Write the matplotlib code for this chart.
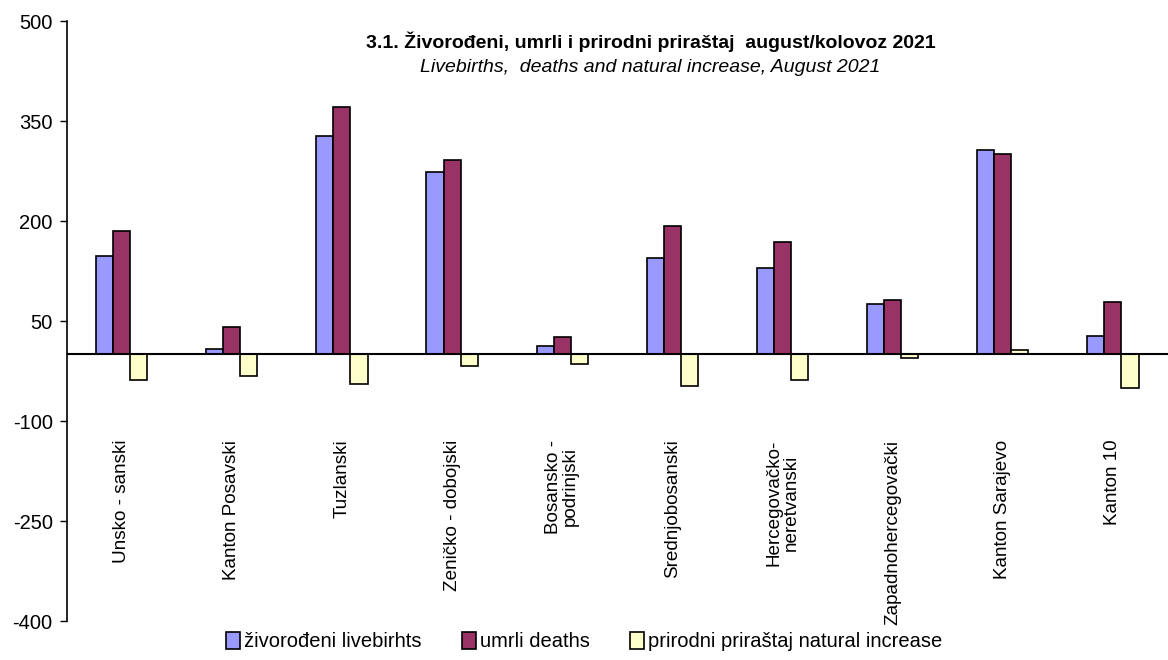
import numpy as np
import matplotlib.pyplot as plt

# Data (August 2021)
cantons = ['Unsko - sanski', 'Kanton Posavski', 'Tuzlanski', 'Zeničko - dobojski',
           'Bosansko -\npodrinjski', 'Srednjobosanski', 'Hercegovačko-\nneretvanski',
           'Zapadnohercegovački', 'Kanton Sarajevo', 'Kanton 10']
livebirths = [147, 8, 327, 273, 12, 145, 129, 75, 306, 27]
deaths = [185, 41, 371, 291, 26, 192, 168, 81, 300, 78]
natural_increase = [-38, -33, -44, -18, -14, -47, -39, -6, 6, -51]
yticks = [500, 350, 200, 50, -100, -250, -400]

plt.rcParams['font.family'] = ['Liberation Sans', 'DejaVu Sans']

fig = plt.figure(figsize=(11.68, 6.6), dpi=100)
ax = fig.add_axes([0.057, 0.059, 0.943, 0.909])

x = np.arange(len(cantons))
w = 0.155
series = [
    (livebirths, '#9999FF', 'živorođeni livebirhts'),
    (deaths, '#993366', 'umrli deaths'),
    (natural_increase, '#FFFFCC', 'prirodni priraštaj natural increase'),
]
for i, (vals, col, lab) in enumerate(series):
    ax.bar(x + (i - 1) * w, vals, width=w, color=col, edgecolor='black',
           linewidth=1.2, label=lab, zorder=2)

ax.axhline(0, color='black', linewidth=1.5, zorder=3)
ax.set_xlim(-0.5, len(cantons) - 0.5)
ax.set_ylim(-400, 500)
ax.set_yticks(yticks)
ax.set_yticklabels([str(v) for v in yticks], fontsize=14.5)
ax.tick_params(axis='y', direction='out', length=5, width=1, pad=5)
ax.set_xticks([])
for s in ['top', 'right', 'bottom']:
    ax.spines[s].set_visible(False)
ax.spines['left'].set_linewidth(1.2)

# category labels, rotated, hanging below the zero line
for xi, name in zip(x, cantons):
    ax.text(xi, -128, name, rotation=90, ha='center', va='top', fontsize=13.6,
            multialignment='center', linespacing=1.0)

fig.text(0.557, 0.936, '3.1. Živorođeni, umrli i prirodni priraštaj  august/kolovoz 2021',
         ha='center', va='center', fontsize=14, fontweight='bold')
fig.text(0.557, 0.897, 'Livebirths,  deaths and natural increase, August 2021',
         ha='center', va='center', fontsize=14, fontstyle='italic')

fig.legend(loc='lower center', bbox_to_anchor=(0.50, -0.014), ncol=3, frameon=False,
           prop={'size': 14.5}, handlelength=0.7, handleheight=0.9,
           handletextpad=0.2, columnspacing=2.0)

fig.savefig('out.png', dpi=100)
